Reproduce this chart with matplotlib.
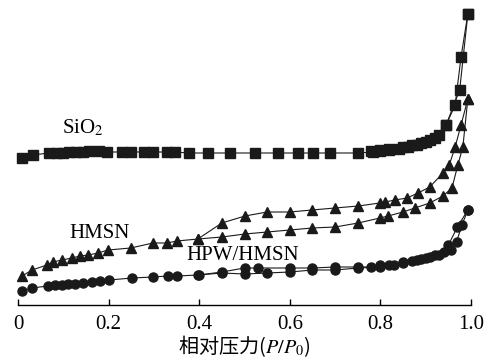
"""N2 吸附-脱附等温线: SiO2, HMSN, HPW/HMSN."""

import matplotlib.pyplot as plt

plt.rcParams["mathtext.fontset"] = "stix"

# SiO2
sio2_ads_x = [0.009, 0.033, 0.068, 0.086, 0.099, 0.113, 0.128, 0.143, 0.157, 0.179,
              0.196, 0.230, 0.249, 0.278, 0.298, 0.329, 0.346, 0.377, 0.419, 0.468,
              0.523, 0.574, 0.618, 0.651, 0.689, 0.750, 0.784, 0.80, 0.82, 0.84,
              0.86, 0.88, 0.90, 0.92, 0.945, 0.975, 0.993]
sio2_ads_y = [147, 150, 152, 152, 152, 153, 153, 153, 154, 154,
              153, 153, 153, 153, 153, 153, 153, 152, 152, 152,
              152, 152, 152, 152, 152, 152, 153, 154, 155, 156,
              158, 160, 163, 167, 180, 215, 291]
sio2_des_x = [0.993, 0.978, 0.965, 0.945, 0.93, 0.91, 0.89, 0.87, 0.85, 0.82, 0.80, 0.78]
sio2_des_y = [291, 248, 200, 180, 170, 165, 162, 160, 158, 156, 155, 154]

# HMSN
hmsn_ads_x = [0.009, 0.031, 0.064, 0.077, 0.097, 0.119, 0.137, 0.155, 0.177, 0.199,
              0.249, 0.298, 0.329, 0.351, 0.397, 0.450, 0.501, 0.550, 0.600, 0.649,
              0.700, 0.751, 0.799, 0.817, 0.850, 0.876, 0.909, 0.938, 0.958, 0.971,
              0.982, 0.993]
hmsn_ads_y = [29, 35, 40, 43, 45, 47, 49, 50, 52, 55,
              57, 62, 62, 64, 66, 68, 71, 73, 75, 77,
              78, 82, 87, 89, 93, 97, 102, 109, 117, 140,
              158, 206]
hmsn_des_x = [0.993, 0.978, 0.965, 0.952, 0.938, 0.909, 0.883, 0.859, 0.832, 0.810,
              0.799, 0.751, 0.700, 0.649, 0.600, 0.550, 0.501, 0.450, 0.397]
hmsn_des_y = [206, 180, 158, 140, 132, 118, 112, 107, 105, 103,
              102, 99, 97, 95, 93, 93, 89, 82, 66]

# HPW/HMSN
hpw_ads_x = [0.009, 0.031, 0.066, 0.082, 0.097, 0.110, 0.126, 0.143, 0.163, 0.181,
             0.201, 0.252, 0.298, 0.331, 0.351, 0.397, 0.450, 0.501, 0.550, 0.600,
             0.650, 0.700, 0.751, 0.800, 0.830, 0.850, 0.870, 0.890, 0.910, 0.930,
             0.950, 0.970, 0.993]
hpw_ads_y = [14, 17, 19, 20, 20, 21, 21, 22, 23, 24,
             25, 27, 28, 29, 29, 30, 32, 31, 32, 33,
             35, 35, 37, 38, 40, 42, 44, 46, 48, 50,
             60, 78, 95]
hpw_des_x = [0.993, 0.980, 0.968, 0.955, 0.940, 0.920, 0.900, 0.880, 0.850, 0.820,
             0.800, 0.780, 0.750, 0.700, 0.650, 0.600, 0.530, 0.500, 0.450, 0.400]
hpw_des_y = [95, 80, 63, 55, 53, 50, 47, 45, 43, 40,
             40, 38, 38, 38, 37, 37, 37, 37, 33, 30]

x_ticks = [0, 0.2, 0.4, 0.6, 0.8, 1.0]
x_tick_labels = ["0", "0.2", "0.4", "0.6", "0.8", "1.0"]

fig = plt.figure(figsize=(4.86, 3.58), dpi=100)
ax = fig.add_axes([18 / 486, 53 / 358, 453 / 486, 300 / 358])

cor = "#1a1a1a"
estilo = dict(color=cor, linewidth=0.8, markersize=6.5, clip_on=False)
ax.plot(sio2_ads_x, sio2_ads_y, marker="s", **estilo)
ax.plot(sio2_des_x, sio2_des_y, marker="s", **estilo)
ax.plot(hmsn_ads_x, hmsn_ads_y, marker="^", **estilo)
ax.plot(hmsn_des_x, hmsn_des_y, marker="^", **estilo)
ax.plot(hpw_ads_x, hpw_ads_y, marker="o", **estilo)
ax.plot(hpw_des_x, hpw_des_y, marker="o", **estilo)

serif = "Liberation Serif"
ax.text(0.143, 177, "SiO$_2$", fontsize=15, family=serif, ha="center", va="center")
ax.text(0.179, 71, "HMSN", fontsize=15, family=serif, ha="center", va="center")
ax.text(0.495, 50, "HPW/HMSN", fontsize=15, family=serif, ha="center", va="center")

ax.set_xlim(0, 1.0)
ax.set_ylim(0, 300)
for lado in ["left", "right", "top"]:
    ax.spines[lado].set_visible(False)
ax.spines["bottom"].set_linewidth(1.0)
ax.set_yticks([])
ax.set_xticks(x_ticks)
ax.set_xticklabels(x_tick_labels, family=serif, fontsize=15)
ax.tick_params(axis="x", direction="in", length=4, width=1.0, pad=7)
ax.set_xlabel("相对压力($P/P_0$)", family=["Noto Sans CJK SC", "DejaVu Sans"],
              fontsize=14.5, labelpad=0)

fig.savefig("out.png", dpi=100)
plt.close(fig)
